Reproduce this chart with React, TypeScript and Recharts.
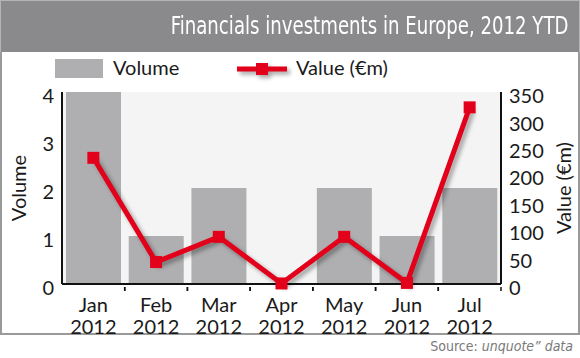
import { ComposedChart, Bar, Line, XAxis, YAxis, CartesianGrid } from "recharts";

const months = ["Jan", "Feb", "Mar", "Apr", "May", "Jun", "Jul"];
const years = ["2012", "2012", "2012", "2012", "2012", "2012", "2012"];
const volume = [4, 1, 2, 0, 2, 1, 2];
const valueEur = [230, 40, 86, 1, 86, 2, 322];
const volumeTicks = [0, 1, 2, 3, 4];
const valueTicks = [0, 50, 100, 150, 200, 250, 300, 350];

const data = months.map((m, i) => ({ month: m, year: years[i], volume: volume[i], value: valueEur[i] }));

const RED = "#e2001a";
const FONT = "Lato, 'Noto Sans', sans-serif";
const NARROW = "'Liberation Sans Narrow', 'DejaVu Sans Condensed', sans-serif";
const TXT = "#1a1a1a";
const BAR = "#afafb1";

const MonthTick = (props: any) => {
  const { x, y, payload, index } = props;
  const band = 439 / months.length;
  const row = data[index] || data[0];
  return (
    <g>
      {index > 0 && <line x1={x - band / 2} x2={x - band / 2} y1={y - 5} y2={y - 1} stroke="#111" strokeWidth={1.5} />}
      <line x1={x + band / 2} x2={x + band / 2} y1={y - 5} y2={y - 1} stroke="#111" strokeWidth={1.5} />
      <text x={x} y={y + 20} textAnchor="middle" fontSize={20} fill={TXT} fontFamily={FONT}>
        {payload.value}
      </text>
      <text x={x} y={y + 42} textAnchor="middle" fontSize={20} fill={TXT} fontFamily={FONT}>
        {row.year}
      </text>
    </g>
  );
};

const SquareDot = (props: any) => {
  const { cx, cy } = props;
  if (cx == null || cy == null) return null;
  return <rect x={cx - 6} y={cy - 6} width={12} height={12} fill={RED} />;
};

const App = () => {
  return (
    <div style={{ position: "absolute", left: 0, top: 0, width: 580, height: 358, background: "#fff", overflow: "hidden" }}>
      <style>{`.value-line { filter: drop-shadow(3px 3px 2px rgba(0,0,0,0.35)); }`}</style>
      <div
        style={{
          position: "absolute", left: 0, top: 0, width: 578, height: 51, background: "#8a8a8c",
          border: "1px solid #b5b5b5", borderBottom: "none",
        }}
      >
        <div
          style={{
            position: "absolute", right: 11, top: 11, color: "#fff", fontFamily: NARROW, fontSize: 24,
            whiteSpace: "nowrap", transform: "scaleX(0.84)", transformOrigin: "right center",
          }}
        >
          Financials investments in Europe, 2012 YTD
        </div>
      </div>
      <div
        style={{
          position: "absolute", left: 0, top: 52, width: 576, height: 281, background: "#fff",
          border: "2px solid #9a9a9a", borderTop: "none",
        }}
      />
      <div style={{ position: "absolute", left: 0, top: 52, width: 580, height: 40, fontFamily: FONT, fontSize: 20, color: TXT }}>
        <div style={{ position: "absolute", left: 55, top: 7, width: 48, height: 19, background: BAR }} />
        <div style={{ position: "absolute", left: 113, top: 3 }}>Volume</div>
        <svg style={{ position: "absolute", left: 235, top: 6 }} width={58} height={26}>
          <g className="value-line">
            <line x1={2} x2={52} y1={11} y2={11} stroke={RED} strokeWidth={5} />
            <rect x={21} y={5} width={12} height={12} fill={RED} />
          </g>
        </svg>
        <div style={{ position: "absolute", left: 296, top: 3 }}>Value (€m)</div>
      </div>
      <div style={{ position: "absolute", left: 0, top: 52 }}>
        <ComposedChart width={580} height={306} data={data} margin={{ top: 40, right: 0, bottom: 0, left: 0 }} barCategoryGap={4}>
          <CartesianGrid horizontal={false} vertical={false} fill="#f4f4f4" />
          <XAxis
            dataKey="month"
            height={74}
            axisLine={{ stroke: "#111", strokeWidth: 2 }}
            tickLine={false}
            tick={<MonthTick />}
            interval={0}
          />
          <YAxis
            yAxisId="vol"
            orientation="left"
            width={62}
            domain={[0, 4]}
            ticks={volumeTicks}
            interval={0}
            axisLine={{ stroke: "#111", strokeWidth: 2 }}
            tickLine={false}
            tick={{ fontSize: 20, fill: TXT, fontFamily: FONT, dy: 4 }}
            tickMargin={2}
            label={{
              content: ({ viewBox }: any) => (
                <text
                  x={viewBox.x + 26}
                  y={viewBox.y + viewBox.height / 2}
                  transform={`rotate(-90 ${viewBox.x + 26} ${viewBox.y + viewBox.height / 2})`}
                  textAnchor="middle"
                  fontSize={20}
                  fill={TXT}
                  fontFamily={FONT}
                >
                  Volume
                </text>
              ),
            }}
          />
          <YAxis
            yAxisId="val"
            orientation="right"
            width={79}
            domain={[0, 350]}
            ticks={valueTicks}
            interval={0}
            axisLine={{ stroke: "#111", strokeWidth: 2 }}
            tickLine={false}
            tick={{ fontSize: 20, fill: TXT, fontFamily: FONT, dy: 4 }}
            tickMargin={2}
            label={{
              content: ({ viewBox }: any) => (
                <text
                  x={viewBox.x + 70}
                  y={viewBox.y + viewBox.height / 2}
                  transform={`rotate(-90 ${viewBox.x + 70} ${viewBox.y + viewBox.height / 2})`}
                  textAnchor="middle"
                  fontSize={20}
                  fill={TXT}
                  fontFamily={FONT}
                >
                  Value (€m)
                </text>
              ),
            }}
          />
          <Bar yAxisId="vol" dataKey="volume" fill={BAR} isAnimationActive={false} />
          <Line
            yAxisId="val"
            dataKey="value"
            className="value-line"
            stroke={RED}
            strokeWidth={5}
            dot={<SquareDot />}
            activeDot={false}
            type="linear"
            isAnimationActive={false}
          />
        </ComposedChart>
      </div>
      <div
        style={{
          position: "absolute", right: 7, top: 338, color: "#7a7a7a", fontFamily: NARROW, fontSize: 14,
          whiteSpace: "nowrap",
        }}
      >
        Source: <i>unquote” data</i>
      </div>
    </div>
  );
};

export default App;
